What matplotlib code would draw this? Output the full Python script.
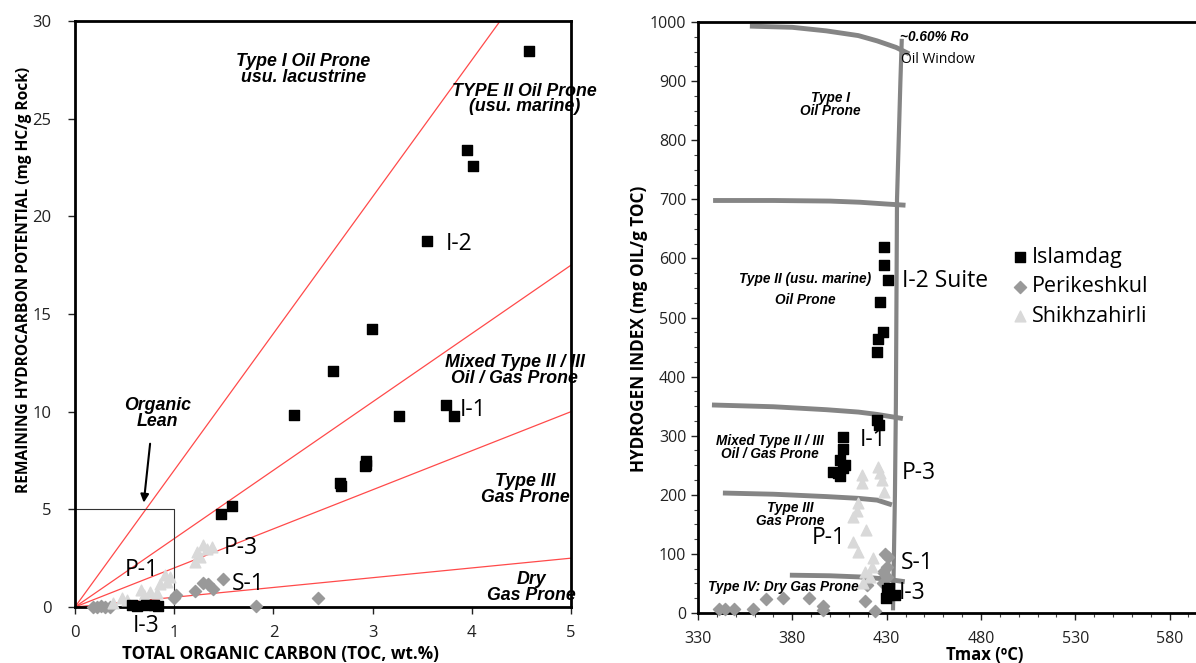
import matplotlib
matplotlib.use("Agg")
import matplotlib.pyplot as plt
from matplotlib.ticker import MultipleLocator
import numpy as np

plt.rcParams['font.family'] = ['Open Sans', 'DejaVu Sans']

# ---------------- data: left panel (TOC vs S2) ----------------
isl_toc = [4.58, 3.95, 4.01, 3.55, 2.99, 2.60, 2.21, 3.27, 3.74, 3.82, 2.93, 2.93, 2.92,
           2.67, 2.68, 1.58, 1.47, 0.57, 0.62, 0.72, 0.80, 0.84]
isl_s2 = [28.45, 23.4, 22.6, 18.75, 14.25, 12.1, 9.85, 9.8, 10.35, 9.8, 7.5, 7.25, 7.2,
          6.35, 6.2, 5.15, 4.75, 0.1, 0.05, 0.08, 0.1, 0.05]

per_toc = [0.18, 0.22, 0.26, 0.30, 0.35, 1.00, 1.02, 1.21, 1.29, 1.34, 1.39, 1.49, 1.82, 2.45]
per_s2 = [0.02, 0.00, 0.03, 0.00, 0.02, 0.45, 0.60, 0.80, 1.25, 1.20, 0.90, 1.45, 0.05, 0.45]

shi_toc = [0.38, 0.47, 0.52, 0.67, 0.70, 0.76, 0.83, 0.86, 0.91, 0.93, 0.96,
           1.21, 1.23, 1.26, 1.29, 1.33, 1.38]
shi_s2 = [0.20, 0.45, 0.35, 0.85, 0.60, 0.75, 0.70, 1.20, 1.65, 1.30, 1.55,
          2.30, 2.80, 2.55, 3.15, 2.95, 3.05]

hi_class_slopes = [7.0, 3.5, 2.0, 0.5]   # HI = 700, 350, 200, 50 lines (S2/TOC)

# ---------------- data: right panel (Tmax vs HI) ----------------
isl_tmax = [428.5, 428.5, 430.6, 426.4, 428.0, 425.3, 424.8, 424.8, 425.9, 406.8, 406.8,
            405.2, 407.9, 401.5, 404.0, 405.2, 407.0, 430.1, 430.6, 429.6, 434.3, 431.0]
isl_hi = [620, 588, 563, 527, 476, 464, 442, 327, 318, 298, 278,
          259, 251, 239, 237, 231, 246, 39, 30, 25, 30, 42]

per_tmax = [341, 344.3, 349, 359, 366, 375, 389, 396.2, 396, 418.5, 423.7,
            429, 430.6, 430, 428, 430, 428, 419.5]
per_hi = [7, 7, 7, 7, 24, 25, 25, 12, 5, 20, 4, 100, 95, 78, 70, 61, 51, 47]

shi_tmax = [425.3, 426.4, 416.9, 416.9, 427.5, 428.5, 414.7, 414.2, 412.1, 419.0,
            412.1, 414.7, 422.7, 422.2, 418.5, 421.1, 417.4]
shi_hi = [247, 237, 234, 220, 225, 205, 186, 172, 163, 141, 120, 103, 93, 78, 70, 61, 51]

tmax_ticks = [330, 380, 430, 480, 530, 580]

# kerogen-type boundary curves (Tmax, HI)
b1000_t = [357.5, 380, 398, 415, 425, 435, 442]
b1000_h = [993, 991, 985, 977, 968, 957, 946]
b700_t = [338, 370, 400, 416, 430, 440]
b700_h = [698, 698, 697, 695, 692, 690]
b350_t = [337.4, 370, 398, 415, 425, 438.6]
b350_h = [352, 349, 344, 340, 336, 329]
b200_t = [343.2, 370, 398, 415, 425, 432.8]
b200_h = [203, 201, 197, 194, 191, 183]
b50_t = [378.7, 400, 415.8, 428, 439.6]
b50_h = [64, 63, 61, 58, 53]
ow_t = [438.0, 437.3, 435.5, 434.9, 434.4, 433.4]
ow_h = [968, 900, 700, 350, 200, 8]

black = '#000000'
grey_d = '#999999'
grey_t = '#d9d9d9'
red = '#ff4a4a'
curve = '#858585'

fig = plt.figure(figsize=(11.96, 6.63), dpi=100)

# ================= left panel =================
ax1 = fig.add_axes([75/1196, 1-607/663, (571-75)/1196, (607-21)/663])
ax1.set_xlim(0, 5)
ax1.set_ylim(0, 30)
xx = np.array([0, 5])
for s in hi_class_slopes:
    ax1.plot(xx, s*xx, color=red, lw=0.9, zorder=1)
ax1.plot([0, 1, 1], [5, 5, 0], color='#333333', lw=0.8, zorder=1)

ax1.scatter(per_toc, per_s2, marker='D', s=38, color=grey_d, zorder=3, clip_on=False)
ax1.scatter(shi_toc, shi_s2, marker='^', s=60, color=grey_t, zorder=3, clip_on=False)
ax1.scatter(isl_toc, isl_s2, marker='s', s=55, color=black, zorder=4, clip_on=False)

for sp in ax1.spines.values():
    sp.set_linewidth(2)
ax1.xaxis.set_major_locator(MultipleLocator(1))
ax1.yaxis.set_major_locator(MultipleLocator(5))
ax1.tick_params(direction='out', length=5, width=1, labelsize=12, colors='#222222')
ax1.tick_params(axis='x', pad=8)
ax1.tick_params(axis='y', pad=12)
ax1.set_xlabel('TOTAL ORGANIC CARBON (TOC, wt.%)', fontsize=12.3, fontweight='bold')
ax1.xaxis.set_label_coords(0.415, -0.065)
ax1.set_ylabel('REMAINING HYDROCARBON POTENTIAL (mg HC/g Rock)', fontsize=11.2, fontweight='bold')
ax1.yaxis.set_label_coords(-0.087, 0.558)

bi = dict(family=['Liberation Sans', 'DejaVu Sans'], fontweight='bold', fontstyle='italic',
          ha='center', va='center', linespacing=0.9)
ax1.text(2.3, 27.5, 'Type I Oil Prone\nusu. lacustrine', fontsize=12.8, **bi)
ax1.text(4.53, 26.0, 'TYPE II Oil Prone\n(usu. marine)', fontsize=12.8, **bi)
ax1.text(4.43, 12.1, 'Mixed Type II / III\nOil / Gas Prone', fontsize=12.8, **bi)
ax1.text(4.54, 6.0, 'Type III\nGas Prone', fontsize=12.8, **bi)
ax1.text(4.6, 1.0, 'Dry\nGas Prone', fontsize=12.8, **bi)
ax1.text(0.83, 9.9, 'Organic\nLean', fontsize=12.8, **bi)
ax1.annotate('', xy=(0.69, 5.2), xytext=(0.76, 8.5),
             arrowprops=dict(arrowstyle='-|>', color='black', lw=1.5, mutation_scale=12))

lab = dict(fontsize=16.5, ha='left', va='center', color='black')
ax1.text(3.74, 18.6, 'I-2', **lab)
ax1.text(3.88, 10.1, 'I-1', **lab)
ax1.text(1.50, 3.0, 'P-3', **lab)
ax1.text(0.50, 1.9, 'P-1', **lab)
ax1.text(1.58, 1.2, 'S-1', **lab)
ax1.text(0.58, -0.95, 'I-3', clip_on=False, **lab)

# ================= right panel =================
ax2 = fig.add_axes([698/1196, 1-613/663, 1-698/1196, (613-22)/663])
ax2.set_xlim(330, 594)
ax2.set_ylim(0, 1000)
for bt, bh in [(b1000_t, b1000_h), (b700_t, b700_h), (b350_t, b350_h),
               (b200_t, b200_h), (b50_t, b50_h)]:
    ax2.plot(bt, bh, color=curve, lw=3.5, solid_capstyle='butt', zorder=2)
ax2.plot(ow_t, ow_h, color=curve, lw=3, zorder=2)

ax2.scatter(per_tmax, per_hi, marker='D', s=38, color=grey_d, zorder=3, clip_on=False,
            label='Perikeshkul')
ax2.scatter(shi_tmax, shi_hi, marker='^', s=60, color=grey_t, zorder=3, clip_on=False,
            label='Shikhzahirli')
ax2.scatter(isl_tmax, isl_hi, marker='s', s=55, color=black, zorder=4, clip_on=False,
            label='Islamdag')

ax2.spines['right'].set_visible(False)
for k in ['left', 'bottom', 'top']:
    ax2.spines[k].set_linewidth(2)
ax2.set_xticks(tmax_ticks)
ax2.set_xticks(np.arange(330, 595, 10), minor=True)
ax2.yaxis.set_major_locator(MultipleLocator(100))
ax2.yaxis.set_minor_locator(MultipleLocator(25))
ax2.tick_params(which='major', direction='out', length=5, width=1, labelsize=11.5, colors='#222222')
ax2.tick_params(which='minor', direction='out', length=3, width=0.8, colors='#444444')
ax2.tick_params(axis='x', which='major', pad=8)
ax2.set_xlabel('Tmax (ºC)', fontsize=12, fontweight='bold')
ax2.xaxis.set_label_coords(0.575, -0.055)
ax2.set_ylabel('HYDROGEN INDEX (mg OIL/g TOC)', fontsize=12.3, fontweight='bold')
ax2.yaxis.set_label_coords(-0.1, 0.48)

bs = dict(bi)
ax2.text(455.5, 975, '~0.60% Ro', fontsize=9.8, **bs)
ax2.text(457, 936, 'Oil Window', fontsize=10, ha='center', va='center')
ax2.text(400, 860, 'Type I\nOil Prone', fontsize=9.8, **bs)
ax2.text(386.7, 547, 'Type II (usu. marine)\n\nOil Prone', fontsize=9.8, **dict(bs, linespacing=0.7))
ax2.text(368, 280, 'Mixed Type II / III\nOil / Gas Prone', fontsize=9.8, **bs)
ax2.text(378.7, 166, 'Type III\nGas Prone', fontsize=9.8, **bs)
ax2.text(375, 44, 'Type IV: Dry Gas Prone', fontsize=9.8, **bs)

ax2.text(438, 561, 'I-2 Suite', **lab)
ax2.text(415.8, 292, 'I-1', **lab)
ax2.text(438, 237, 'P-3', **lab)
ax2.text(390.4, 127, 'P-1', **lab)
ax2.text(437.5, 85, 'S-1', **lab)
ax2.text(436.5, 34, 'I-3', **lab)

h, l = ax2.get_legend_handles_labels()
order = [2, 0, 1]
ax2.legend([h[i] for i in order], [l[i] for i in order], loc='upper left',
           bbox_to_anchor=(1001/1196, 1-238/663), bbox_transform=fig.transFigure,
           frameon=False, fontsize=15.5, handletextpad=0.05, labelspacing=0.4,
           handlelength=1.0, borderaxespad=0)

fig.savefig('out.png', dpi=100)
